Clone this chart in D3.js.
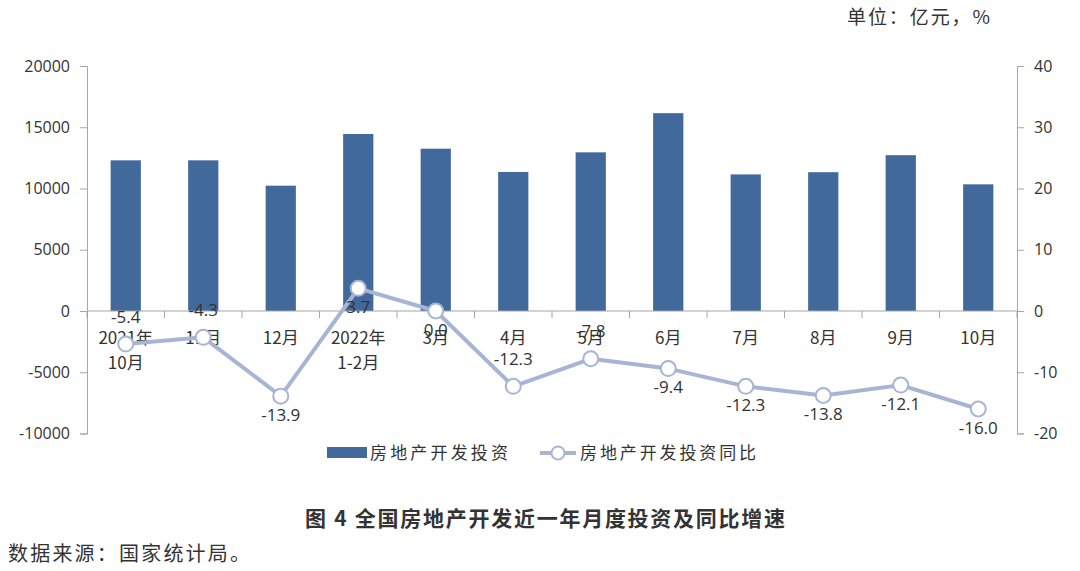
<!DOCTYPE html>
<html><head><meta charset="utf-8">
<script src="https://cdn.jsdelivr.net/npm/d3@7"></script>
<style>
body{margin:0;background:#fff;}
svg text{font-family:"Noto Sans CJK SC","Noto Sans",sans-serif;fill:#333;}
</style></head>
<body><svg id="c" width="1080" height="571"></svg>
<script>
const categories = [["2021年","10月"],["11月"],["12月"],["2022年","1-2月"],["3月"],["4月"],["5月"],["6月"],["7月"],["8月"],["9月"],["10月"]];
const investment = [12300,12300,10230,14450,13250,11350,12950,16150,11150,11330,12720,10340];
const growth = [-5.4,-4.3,-13.9,3.7,0.0,-12.3,-7.8,-9.4,-12.3,-13.8,-12.1,-16.0];
const labelSide = ["above","above","below","below","below","above","above","below","below","below","below","below"];
const leftTicks = [-10000,-5000,0,5000,10000,15000,20000];
const rightTicks = [-20,-10,0,10,20,30,40];
const seriesNames = ["房地产开发投资","房地产开发投资同比"];

(function(){
const svg = d3.select("#c");
const pL = 87, pR = 1017, pT = 66, pB = 433.5;
const x = d3.scaleBand().domain(d3.range(categories.length)).range([pL,pR]).paddingInner(0.61).paddingOuter(0.305);
const xOuter = d3.scaleBand().domain(d3.range(categories.length)).range([pL,pR]);
const yL = d3.scaleLinear().domain([-10000,20000]).range([pB,pT]);
const yR = d3.scaleLinear().domain([-20,40]).range([pB,pT]);
const axisColor = "#a6a6a6";
const barColor = "#41699c";
const lineColor = "#a7b4d4";
const numFont = "'Open Sans','Noto Sans',sans-serif";

const gl = svg.append("g").attr("transform",`translate(${pL},0)`)
  .call(d3.axisLeft(yL).tickValues(leftTicks).tickSize(7).tickPadding(10).tickFormat(d=>String(d)));
gl.selectAll("path,line").attr("stroke",axisColor);
gl.selectAll("text").style("font-size","16px").attr("fill","#333").style("font-family",numFont);

const gr = svg.append("g").attr("transform",`translate(${pR},0)`)
  .call(d3.axisRight(yR).tickValues(rightTicks).tickSize(7).tickPadding(10).tickFormat(d=>String(d)));
gr.selectAll("path,line").attr("stroke",axisColor);
gr.selectAll("text").style("font-size","16px").attr("fill","#333").style("font-family",numFont);

svg.append("g").selectAll("rect").data(investment).join("rect")
  .attr("x",(d,i)=>x(i)).attr("width",x.bandwidth())
  .attr("y",d=>yL(Math.max(0,d))).attr("height",d=>Math.abs(yL(d)-yL(0)))
  .attr("fill",barColor);

const y0 = yL(0);
svg.append("line").attr("x1",pL).attr("x2",pR).attr("y1",y0).attr("y2",y0).attr("stroke",axisColor);
svg.append("g").selectAll("line").data(d3.range(categories.length+1)).join("line")
  .attr("x1",i=>pL+i*xOuter.step()).attr("x2",i=>pL+i*xOuter.step())
  .attr("y1",y0).attr("y2",y0+7).attr("stroke",axisColor);

const cl = svg.append("g").selectAll("text").data(categories).join("text")
  .attr("text-anchor","middle").style("font-size","17px").attr("fill","#333")
  .attr("x",(d,i)=>xOuter(i)+xOuter.bandwidth()/2).attr("y",y0+33);
cl.selectAll("tspan").data(d=>d).join("tspan")
  .attr("x",function(){return this.parentNode.getAttribute("x");})
  .attr("dy",(d,j)=>j===0?0:25).text(d=>d);

const cx = i=>xOuter(i)+xOuter.bandwidth()/2;
svg.append("path").datum(growth)
  .attr("d",d3.line().x((d,i)=>cx(i)).y(d=>yR(d)))
  .attr("fill","none").attr("stroke",lineColor).attr("stroke-width",4).attr("stroke-linejoin","round");
svg.append("g").selectAll("circle").data(growth).join("circle")
  .attr("cx",(d,i)=>cx(i)).attr("cy",d=>yR(d)).attr("r",7.5)
  .attr("fill","#fff").attr("stroke",lineColor).attr("stroke-width",2);

svg.append("g").selectAll("text").data(growth).join("text")
  .attr("text-anchor","middle").attr("dominant-baseline","middle")
  .style("font-size","17px").style("font-family",numFont).attr("fill","#333")
  .attr("x",(d,i)=>cx(i))
  .attr("y",(d,i)=>yR(d)+(labelSide[i]==="above"?-26:20))
  .text(d=>d.toFixed(1));

const lg = svg.append("g");
lg.append("rect").attr("x",327).attr("y",447).attr("width",40).attr("height",11).attr("fill",barColor);
lg.append("text").attr("x",370).attr("y",459).style("font-size","17px").attr("textLength",138).text(seriesNames[0]);
lg.append("line").attr("x1",540).attr("x2",576).attr("y1",453).attr("y2",453).attr("stroke",lineColor).attr("stroke-width",4);
lg.append("circle").attr("cx",558).attr("cy",453).attr("r",6.5).attr("fill","#fff").attr("stroke",lineColor).attr("stroke-width",2);
lg.append("text").attr("x",580).attr("y",459).style("font-size","17px").attr("textLength",176).text(seriesNames[1]);

svg.append("text").attr("x",305).attr("y",526).style("font-size","21px").style("font-weight","bold")
  .attr("textLength",480).attr("fill","#111").text("图 4 全国房地产开发近一年月度投资及同比增速");
svg.append("text").attr("x",8).attr("y",561).style("font-size","20px").attr("textLength",242).attr("fill","#111").text("数据来源：国家统计局。");
svg.append("text").attr("x",847).attr("y",24).style("font-size","19px").attr("textLength",143).attr("fill","#111").text("单位：亿元，%");
})();
</script></body></html>
